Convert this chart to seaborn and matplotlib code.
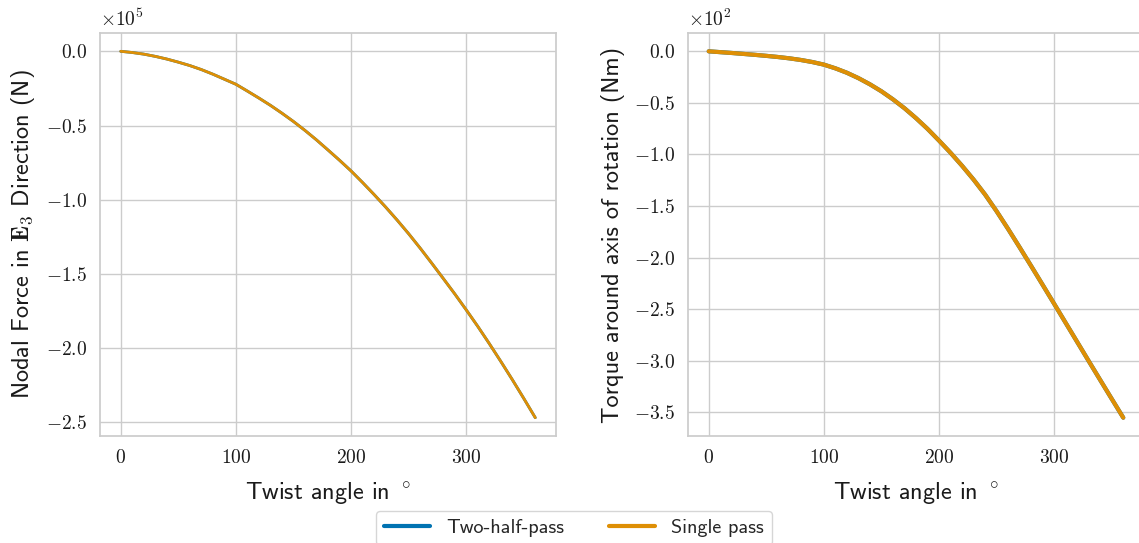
import matplotlib
matplotlib.use("Agg")
import matplotlib.pyplot as plt
from matplotlib.ticker import FuncFormatter, MultipleLocator
import seaborn as sns
import pandas as pd

# ---- data ----
twist_deg = [0, 10, 20, 30, 40, 50, 60, 70, 80, 90, 100, 110, 120, 130, 140, 150, 160, 170, 180,
             190, 200, 210, 220, 230, 240, 250, 260, 270, 280, 290, 300, 310, 320, 330, 340, 350, 360]
# nodal force in E3 direction, in units of 1e5 N
force_two_half = [0, -0.008, -0.019, -0.034, -0.052, -0.073, -0.096, -0.123, -0.154, -0.188, -0.222,
                  -0.268, -0.315, -0.364, -0.417, -0.473, -0.533, -0.597, -0.665, -0.734, -0.806,
                  -0.884, -0.965, -1.049, -1.137, -1.229, -1.326, -1.427, -1.53, -1.634, -1.742,
                  -1.853, -1.969, -2.089, -2.212, -2.339, -2.469]
force_single = [0, -0.008, -0.019, -0.034, -0.052, -0.073, -0.096, -0.123, -0.154, -0.188, -0.222,
                -0.268, -0.315, -0.364, -0.417, -0.473, -0.533, -0.597, -0.665, -0.734, -0.806,
                -0.884, -0.965, -1.049, -1.137, -1.229, -1.326, -1.427, -1.53, -1.634, -1.742,
                -1.853, -1.969, -2.089, -2.212, -2.339, -2.469]
# torque around axis of rotation, in units of 1e2 Nm
torque_two_half = [0, -0.008, -0.016, -0.025, -0.034, -0.044, -0.055, -0.068, -0.084, -0.104, -0.129,
                   -0.165, -0.208, -0.26, -0.32, -0.388, -0.466, -0.552, -0.648, -0.752, -0.866,
                   -0.984, -1.11, -1.244, -1.389, -1.551, -1.723, -1.901, -2.082, -2.265, -2.449,
                   -2.634, -2.819, -3.004, -3.188, -3.371, -3.553]
torque_single = [0, -0.008, -0.016, -0.025, -0.034, -0.044, -0.055, -0.068, -0.084, -0.104, -0.129,
                 -0.165, -0.208, -0.26, -0.32, -0.388, -0.466, -0.552, -0.648, -0.752, -0.866,
                 -0.984, -1.11, -1.244, -1.389, -1.551, -1.723, -1.901, -2.082, -2.265, -2.449,
                 -2.634, -2.819, -3.004, -3.188, -3.371, -3.553]
series_names = ["Two-half-pass", "Single pass"]

n = len(twist_deg)
force_df = pd.DataFrame({
    "angle": twist_deg * 2,
    "value": force_two_half + force_single,
    "method": [series_names[0]] * n + [series_names[1]] * n,
})
torque_df = pd.DataFrame({
    "angle": twist_deg * 2,
    "value": torque_two_half + torque_single,
    "method": [series_names[0]] * n + [series_names[1]] * n,
})

sns.set_theme(style="whitegrid", palette="colorblind")
plt.rcParams["font.family"] = ["cmss10", "DejaVu Sans"]
plt.rcParams["mathtext.fontset"] = "cm"
plt.rcParams["axes.unicode_minus"] = False

fig = plt.figure(figsize=(11.39, 5.43), dpi=100)
ax1 = fig.add_axes([100 / 1139, 1 - 436 / 543, 456 / 1139, 403 / 543])
ax2 = fig.add_axes([688 / 1139, 1 - 436 / 543, 456 / 1139, 403 / 543])

pal = sns.color_palette("colorblind", 2)
sns.lineplot(data=force_df, x="angle", y="value", hue="method", palette=pal, linewidth=2, ax=ax1)
sns.lineplot(data=torque_df, x="angle", y="value", hue="method", palette=pal, linewidth=3, ax=ax2)

tick_fs = 14
label_fs = 17.5
for ax, ylabel, mult in [
    (ax1, r"Nodal Force in $\mathbf{E}_3$ Direction (N)", r"$\times10^{5}$"),
    (ax2, r"Torque around axis of rotation (Nm)", r"$\times10^{2}$"),
]:
    ax.get_legend().remove()
    ax.xaxis.set_major_locator(MultipleLocator(100))
    ax.yaxis.set_major_locator(MultipleLocator(0.5))
    ax.xaxis.set_major_formatter(FuncFormatter(lambda v, p: f"${v + 0.0:.0f}$"))
    ax.yaxis.set_major_formatter(FuncFormatter(lambda v, p: f"${v + 0.0:.1f}$"))
    ax.tick_params(labelsize=tick_fs, colors="0.1")
    ax.set_xlabel(r"Twist angle in $^\circ$", fontsize=label_fs, color="0.1", labelpad=10)
    ax.set_ylabel(ylabel, fontsize=label_fs, color="0.1", labelpad=6)
    ax.text(0.0, 1.008, mult, transform=ax.transAxes, ha="left", va="bottom",
            fontsize=tick_fs, color="0.1")

handles, labels = ax1.get_legend_handles_labels()
leg = fig.legend(handles, labels, loc="upper center", bbox_to_anchor=(0.504, 1 - 501 / 543),
                 ncol=2, fontsize=14.5, handlelength=2.3, columnspacing=2.2, frameon=True)
for line in leg.get_lines():
    line.set_linewidth(3)

fig.savefig("out.png", dpi=100)
